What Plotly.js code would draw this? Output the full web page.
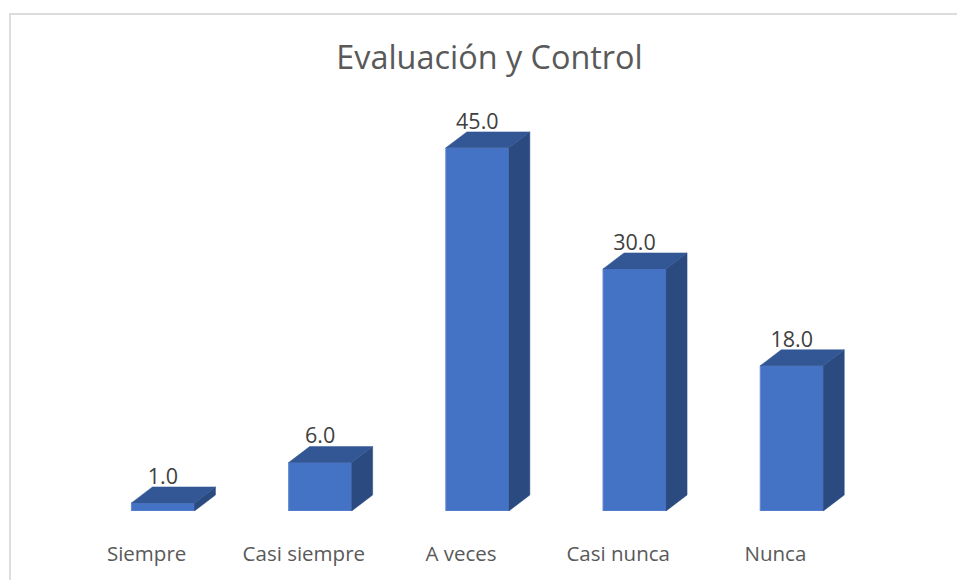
<!DOCTYPE html>
<html>
<head>
<meta charset="utf-8">
<script src="https://cdn.plot.ly/plotly-3.0.1.min.js"></script>
<style>
html,body{margin:0;padding:0;background:#fff;width:957px;height:580px;overflow:hidden}
#frame{position:absolute;left:9px;top:13px;width:948px;height:567px;border-left:2px solid #dedede;border-top:2px solid #dcdcdc;box-sizing:border-box}
#chart{position:absolute;left:0;top:0;width:957px;height:580px}
</style>
</head>
<body>
<div id="frame"></div>
<div id="chart"></div>
<script>
const categories = ["Siempre", "Casi siempre", "A veces", "Casi nunca", "Nunca"];
const values = [1, 6, 45, 30, 18];

const barShift = 0.104, barWidth = 0.401, depthX = 0.1335, depthY = 1.98, labelGap = 3.05;
const positions = categories.map((_, i) => i);
const frontCol = "#4472C4", topCol = "#335795", sideCol = "#2A4A80", edge = "#6288D0";

const sideX = [], sideY = [], topX = [], topY = [];
positions.forEach((p, i) => {
  const l = p + barShift - barWidth / 2, r = l + barWidth, v = values[i];
  sideX.push(r, r + depthX, r + depthX, r, r, null);
  sideY.push(0, depthY, v + depthY, v, 0, null);
  topX.push(l, l + depthX, r + depthX, r, l, null);
  topY.push(v, v + depthY, v + depthY, v, v, null);
});

const poly = (x, y, c) => ({x, y, type: "scatter", mode: "lines", fill: "toself", fillcolor: c,
  line: {color: c, width: 0.5}, hoverinfo: "skip", showlegend: false});

const traces = [
  poly(sideX, sideY, sideCol),
  poly(topX, topY, topCol),
  {type: "bar", x: positions.map(p => p + barShift), y: values, width: barWidth,
   marker: {color: frontCol, line: {color: edge, width: 1}}, hoverinfo: "skip", showlegend: false},
  {type: "scatter", mode: "text", x: positions.map(p => p + barShift), y: values.map(v => v + labelGap),
   text: values.map(v => v.toFixed(1)), textposition: "middle center",
   textfont: {family: "Open Sans, sans-serif", size: 21.5, color: "#404040"},
   hoverinfo: "skip", showlegend: false}
];

const layout = {
  width: 957, height: 580,
  margin: {l: 68, r: 103, t: 100, b: 69, pad: 0},
  paper_bgcolor: "rgba(0,0,0,0)", plot_bgcolor: "rgba(0,0,0,0)",
  showlegend: false,
  title: {text: "Evaluación y Control", x: 489.5 / 957, xanchor: "center", y: 1 - 58 / 580, yanchor: "middle",
          font: {family: "Open Sans, sans-serif", size: 32.4, color: "#595959"}},
  xaxis: {type: "linear", range: [-0.5, 4.5], tickmode: "array", tickvals: positions, ticktext: categories,
          showgrid: false, zeroline: false, showline: false, ticks: "", ticklabelstandoff: 28,
          tickfont: {family: "Open Sans, sans-serif", size: 20.5, color: "#595959"}},
  yaxis: {range: [0, 50.93], visible: false, fixedrange: true}
};
Plotly.newPlot("chart", traces, layout, {displayModeBar: false, staticPlot: true});
</script>
</body>
</html>
